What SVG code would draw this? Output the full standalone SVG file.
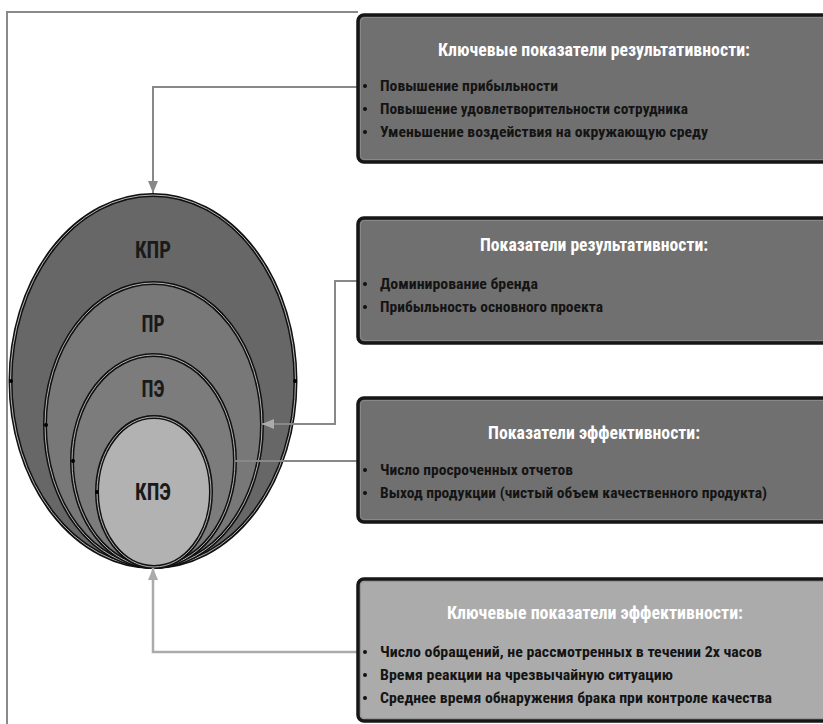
<svg xmlns="http://www.w3.org/2000/svg" width="823" height="724" viewBox="0 0 823 724">
  <style>
    .frame { fill: none; stroke: #8a8a8a; stroke-width: 2; }
    .box-edge { stroke: #161616; stroke-width: 3.5; }
    .box-inner { fill: none; stroke: #8e8e8e; stroke-width: 0.8; }
    .dark { fill: #707070; }
    .light { fill: #ababab; }
    .title { font-family: "Liberation Sans Narrow", "Roboto Condensed", "DejaVu Sans Condensed", "Liberation Sans", sans-serif; font-weight: bold; font-size: 17.5px; fill: #ffffff; text-anchor: middle; }
    .item { font-family: "Liberation Sans Narrow", "Roboto Condensed", "DejaVu Sans Condensed", "Liberation Sans", sans-serif; font-weight: bold; font-size: 15.5px; fill: #141414; }
    .bullet { fill: #111; }
    .ring { stroke: #111; stroke-width: 4; }
    .ring-hi { fill: none; stroke: #b4b4b4; stroke-width: 1; }
    .lvl { font-family: "Liberation Sans Narrow", "Roboto Condensed", "DejaVu Sans Condensed", "Liberation Sans", sans-serif; font-weight: bold; font-size: 23px; fill: #1a1a1a; text-anchor: middle; }
    .handle { fill: #000; }
    .wire { fill: none; stroke: #888888; stroke-width: 2; }
    .wire-light { fill: none; stroke: #ababab; stroke-width: 2.5; }
  </style>
  <defs>
    <marker id="arrow" markerUnits="userSpaceOnUse" markerWidth="12" markerHeight="10" refX="12" refY="5" orient="auto">
      <path d="M0,0 L12,5 L0,10 Z" fill="#888888"/>
    </marker>
    <marker id="arrow-light" markerUnits="userSpaceOnUse" markerWidth="12" markerHeight="10" refX="12" refY="5" orient="auto">
      <path d="M0,0 L12,5 L0,10 Z" fill="#ababab"/>
    </marker>
  </defs>

  <rect width="823" height="724" fill="#ffffff"/>

  <!-- page frame -->
  <path class="frame" d="M7,724 L7,12 L358,12"/>

  <!-- nested levels -->
  <g id="level-kpr">
    <ellipse class="ring" cx="153" cy="381" rx="142.5" ry="186" fill="#676767"/>
    <ellipse class="ring-hi" cx="153" cy="381" rx="142.5" ry="186"/>
    <circle class="handle" cx="11" cy="381" r="2"/>
    <circle class="handle" cx="295" cy="381" r="2"/>
    <text class="lvl" x="153" y="258" textLength="36" lengthAdjust="spacingAndGlyphs">КПР</text>
  </g>
  <g id="level-pr">
    <ellipse class="ring" cx="153.5" cy="425" rx="108.5" ry="142" fill="#787878"/>
    <ellipse class="ring-hi" cx="153.5" cy="425" rx="108.5" ry="142"/>
    <circle class="handle" cx="46" cy="425" r="2"/>
    <text class="lvl" x="153" y="332" textLength="23" lengthAdjust="spacingAndGlyphs">ПР</text>
  </g>
  <g id="level-pe">
    <ellipse class="ring" cx="153.5" cy="461" rx="81.5" ry="106" fill="#7c7c7c"/>
    <ellipse class="ring-hi" cx="153.5" cy="461" rx="81.5" ry="106"/>
    <circle class="handle" cx="73" cy="461" r="2"/>
    <text class="lvl" x="153" y="397" textLength="23" lengthAdjust="spacingAndGlyphs">ПЭ</text>
  </g>
  <g id="level-kpe">
    <ellipse class="ring" cx="154" cy="492" rx="57" ry="75" fill="#b2b2b2"/>
    <ellipse class="ring-hi" cx="154" cy="492" rx="57" ry="75"/>
    <circle class="handle" cx="97" cy="492" r="2"/>
    <text class="lvl" x="153" y="500" textLength="36" lengthAdjust="spacingAndGlyphs">КПЭ</text>
  </g>

  <!-- connectors -->
  <g id="connectors">
    <path class="wire" d="M358,87 L153,87 L153,193" marker-end="url(#arrow)"/>
    <path class="wire" d="M358,281 L335,281 L335,424 L262,424" marker-end="url(#arrow-light)"/>
    <path class="wire" d="M358,461 L235,461"/>
    <path class="wire-light" d="M358,652 L153,652 L153,568" marker-end="url(#arrow-light)"/>
  </g>

  <!-- indicator boxes -->
  <g id="box-kpr">
    <rect class="dark box-edge" x="358" y="15" width="475" height="147" rx="6"/>
    <rect class="box-inner" x="360.5" y="17.5" width="470" height="142" rx="4"/>
    <text class="title" x="594" y="56" textLength="312" lengthAdjust="spacingAndGlyphs">Ключевые показатели результативности:</text>
    <circle class="bullet" cx="365" cy="86" r="2"/>
    <circle class="bullet" cx="365" cy="109" r="2"/>
    <circle class="bullet" cx="365" cy="132" r="2"/>
    <text class="item" x="380" y="91" textLength="178" lengthAdjust="spacingAndGlyphs">Повышение прибыльности</text>
    <text class="item" x="380" y="114" textLength="308" lengthAdjust="spacingAndGlyphs">Повышение удовлетворительности сотрудника</text>
    <text class="item" x="380" y="137" textLength="328" lengthAdjust="spacingAndGlyphs">Уменьшение воздействия на окружающую среду</text>
  </g>

  <g id="box-pr">
    <rect class="dark box-edge" x="358" y="218" width="475" height="125" rx="6"/>
    <rect class="box-inner" x="360.5" y="220.5" width="470" height="120" rx="4"/>
    <text class="title" x="594" y="251" textLength="228" lengthAdjust="spacingAndGlyphs">Показатели результативности:</text>
    <circle class="bullet" cx="365" cy="284" r="2"/>
    <circle class="bullet" cx="365" cy="307" r="2"/>
    <text class="item" x="380" y="289" textLength="158" lengthAdjust="spacingAndGlyphs">Доминирование бренда</text>
    <text class="item" x="380" y="312" textLength="223" lengthAdjust="spacingAndGlyphs">Прибыльность основного проекта</text>
  </g>

  <g id="box-pe">
    <rect class="dark box-edge" x="358" y="398" width="475" height="124" rx="6"/>
    <rect class="box-inner" x="360.5" y="400.5" width="470" height="119" rx="4"/>
    <text class="title" x="594" y="439" textLength="212" lengthAdjust="spacingAndGlyphs">Показатели эффективности:</text>
    <circle class="bullet" cx="365" cy="470" r="2"/>
    <circle class="bullet" cx="365" cy="493" r="2"/>
    <text class="item" x="380" y="475" textLength="193" lengthAdjust="spacingAndGlyphs">Число просроченных отчетов</text>
    <text class="item" x="380" y="498" textLength="387" lengthAdjust="spacingAndGlyphs">Выход продукции (чистый объем качественного продукта)</text>
  </g>

  <g id="box-kpe">
    <rect class="light box-edge" x="358" y="579" width="475" height="142" rx="6"/>
    <rect class="box-inner" x="360.5" y="581.5" width="470" height="137" rx="4"/>
    <text class="title" x="595" y="619" textLength="296" lengthAdjust="spacingAndGlyphs">Ключевые показатели эффективности:</text>
    <circle class="bullet" cx="365" cy="652" r="2"/>
    <circle class="bullet" cx="365" cy="675" r="2"/>
    <circle class="bullet" cx="365" cy="698" r="2"/>
    <text class="item" x="380" y="657" textLength="382" lengthAdjust="spacingAndGlyphs">Число обращений, не рассмотренных в течении 2х часов</text>
    <text class="item" x="380" y="680" textLength="293" lengthAdjust="spacingAndGlyphs">Время реакции на чрезвычайную ситуацию</text>
    <text class="item" x="380" y="703" textLength="392" lengthAdjust="spacingAndGlyphs">Среднее время обнаружения брака при контроле качества</text>
  </g>
</svg>
